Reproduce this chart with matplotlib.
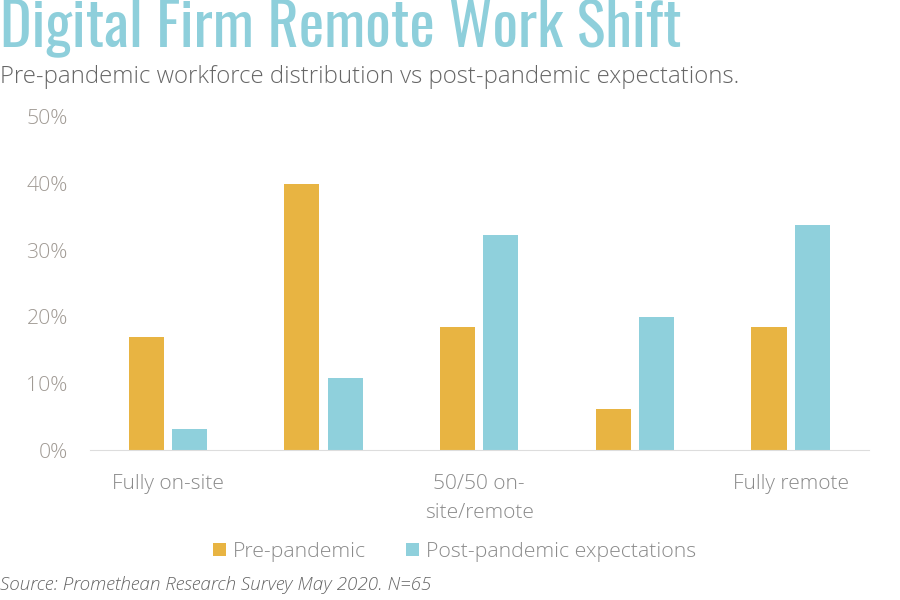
import matplotlib
matplotlib.use("Agg")
import matplotlib.pyplot as plt
from matplotlib.font_manager import FontProperties
from matplotlib.ticker import FuncFormatter
import numpy as np

categories = ["Fully on-site", "", "50/50 on-\nsite/remote", "", "Fully remote"]
pre_pandemic = [16.9, 40.0, 18.5, 6.2, 18.5]
post_pandemic = [3.1, 10.8, 32.3, 20.0, 33.8]
y_ticks = [0, 10, 20, 30, 40, 50]
series_names = ["Pre-pandemic", "Post-pandemic expectations"]

gold = "#E8B442"
blue = "#8FD0DC"

# Open Sans Light for all the small text
label_font = FontProperties(family="Open Sans", weight=300, size=15)
legend_font = FontProperties(family="Open Sans", weight=300, size=15.3)
tick_font = FontProperties(family="Open Sans", weight=300, size=15.3)
src_font = FontProperties(family="Open Sans", weight=300, style="italic", size=13.6)

fig = plt.figure(figsize=(9, 6), dpi=100)
ax = fig.add_axes([0.1, 0.25, 0.865, 0.555])
x = np.arange(len(categories))
ax.bar(x - 0.139, pre_pandemic, 0.225, color=gold, label=series_names[0])
ax.bar(x + 0.139, post_pandemic, 0.225, color=blue, label=series_names[1])
ax.set_xlim(-0.5, 4.5)
ax.set_ylim(0, 50)

for s in ["top", "right", "left"]:
    ax.spines[s].set_visible(False)
ax.spines["bottom"].set_color("#dddddd")
ax.tick_params(length=0)
ax.set_yticks(y_ticks)
ax.yaxis.set_major_formatter(FuncFormatter(lambda v, p: f"{v:.0f}%"))
ax.set_xticks(x)
ax.set_xticklabels(categories)
for lab in ax.get_yticklabels():
    lab.set_fontproperties(tick_font)
    lab.set_color("#a09a94")
for lab in ax.get_xticklabels():
    lab.set_fontproperties(label_font)
    lab.set_color("#8a8a8a")
    lab.set_linespacing(1.55)
ax.tick_params(axis="y", pad=16)
ax.tick_params(axis="x", pad=17.5)

fig.text(0.0, 1.003, "Digital Firm Remote Work Shift", family="Oswald", fontsize=43.3,
         color="#8ECFDB", va="top", ha="left")
fig.text(0.0, 0.862, "Pre-pandemic workforce distribution vs post-pandemic expectations.",
         family="Open Sans", weight=300, fontsize=17.3, color="#666666", va="baseline")
fig.text(0.0, 0.017, "Source: Promethean Research Survey May 2020. N=65",
         fontproperties=src_font, color="#666666", va="baseline")

leg = ax.legend(loc="center", ncol=2, frameon=False, prop=legend_font,
                handlelength=0.62, handleheight=0.62, handletextpad=0.3, columnspacing=1.9)
leg.set_bbox_to_anchor((0.505, 0.080), transform=fig.transFigure)
for t in leg.get_texts():
    t.set_color("#8a8a8a")

fig.savefig("out.png")
